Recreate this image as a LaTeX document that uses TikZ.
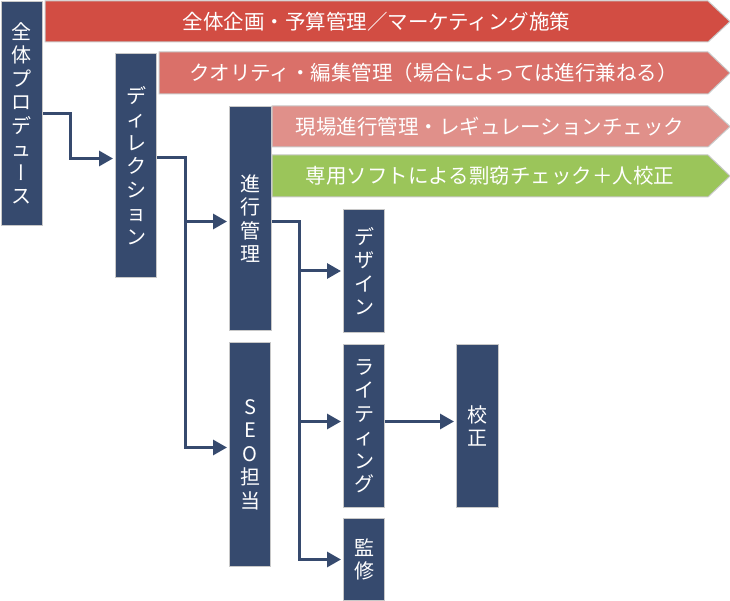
\documentclass[tikz,border=0pt]{standalone}
\usepackage{fontspec}
\usepackage{xcolor}
\usepackage{tikz}
\usetikzlibrary{arrows.meta}
\setmainfont{Noto Sans CJK JP}
\newfontfamily\tatefont[RawFeature=+vert]{Noto Sans CJK JP}
\definecolor{navy}{RGB}{54,74,110}
\definecolor{rim}{RGB}{200,200,200}
\definecolor{bnred}{RGB}{210,77,67}
\definecolor{bnsalmon}{RGB}{218,112,105}
\definecolor{bnpink}{RGB}{224,144,138}
\definecolor{bngreen}{RGB}{155,197,90}

\begin{document}
\begin{tikzpicture}[x=1pt, y=-1pt,
    role/.style={draw=rim, line width=1pt, fill=navy, text=white, anchor=north west,
      minimum width=41pt, inner sep=0pt, align=center, font=\fontsize{20}{23.5}\selectfont},
    banner/.style={draw=rim, line width=1pt},
    bantext/.style={text=white, inner sep=0pt, font=\fontsize{20.5}{24}\selectfont},
    link/.style={draw=navy, line width=3pt, -{Triangle[length=14pt,width=15pt]}, shorten >=2pt}]
                \useasboundingbox (0,0) rectangle (730,601);

                % Banners
                \draw[banner, fill=bnred] (45,1) -- (708,1) -- (730,21.5) -- (708,42) -- (45,42) -- cycle;
                \node[bantext] (plan) at (376.5,21.5) {全体企画・予算管理／マーケティング施策};
                \draw[banner, fill=bnsalmon] (159,52) -- (708,52) -- (730,73) -- (708,94) -- (159,94) -- cycle;
                \node[bantext] (quality) at (433.5,73) {クオリティ・編集管理（場合によっては進行兼ねる）};
                \draw[banner, fill=bnpink] (272,106) -- (708,106) -- (730,126.5) -- (708,147) -- (272,147) -- cycle;
                \node[bantext] (site) at (490,126.5) {現場進行管理・レギュレーションチェック};
                \draw[banner, fill=bngreen] (272,155) -- (708,155) -- (730,176) -- (708,197) -- (272,197) -- cycle;
                \node[bantext] (check) at (490,176) {専用ソフトによる剽窃チェック＋人校正};

                % Roles
                \node[role, minimum height=224pt] (prod) at (1,1) {全\\体\\プ\\ロ\\デ\\ュ\\{\tatefont ー}\\ス};
                \node[role, minimum height=224pt] (dir) at (115,53) {デ\\ィ\\レ\\ク\\シ\\ョ\\ン};
                \node[role, minimum height=224pt, minimum width=42pt] (prog) at (229,106) {進\\行\\管\\理};
                \node[role, minimum height=224pt] (seo) at (229,342) {S\\E\\O\\担\\当};
                \node[role, minimum height=123pt] (design) at (343,209) {デ\\ザ\\イ\\ン};
                \node[role, minimum height=163pt] (write) at (343,344) {ラ\\イ\\テ\\ィ\\ン\\グ};
                \node[role, minimum height=82pt] (kanshu) at (343,518) {監\\修};
                \node[role, minimum height=163pt, minimum width=42pt] (kosei) at (456,344) {校\\正};

                % Connectors
                \draw[link] (prod.east) -| ([xshift=-45pt,yshift=7pt]dir.west) -- ([yshift=7pt]dir.west);
                \draw[link] ([yshift=8pt]dir.east) -| ([xshift=-44pt,yshift=-3pt]prog.west) -- ([yshift=-3pt]prog.west);
                \draw[link] ([xshift=-44pt,yshift=-3pt]prog.west) |- ([yshift=7pt]seo.west);
                \draw[link] ([yshift=-3pt]prog.east) -| ([xshift=-44pt]design.west) -- (design.west);
                \draw[link] ([xshift=-44pt]design.west) |- ([yshift=4.5pt]write.west);
                \draw[link] ([xshift=-44pt]design.west) |- (kanshu.west);
                \draw[link] ([yshift=4.5pt]write.east) -- ([yshift=4.5pt]kosei.west);
            \end{tikzpicture}
\end{document}
